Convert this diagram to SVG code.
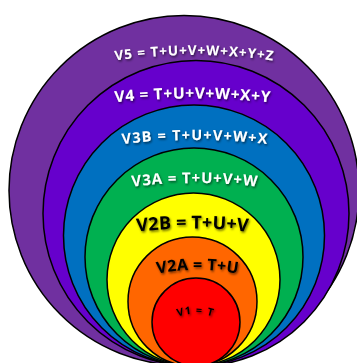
<svg xmlns="http://www.w3.org/2000/svg" xmlns:xlink="http://www.w3.org/1999/xlink" width="357" height="363" viewBox="0 0 357 363">
  <style>
    .ring { stroke: #000; stroke-width: 1.5; }
    .lbl { font-family: "Open Sans", "Liberation Sans", sans-serif; font-weight: bold; text-anchor: middle; filter: url(#shadow); }
    .w { fill: #ffffff; }
    .b { fill: #000000; }
  </style>
  <defs>
    <filter id="shadow" x="-20%" y="-50%" width="140%" height="200%">
      <feDropShadow dx="1" dy="1.5" stdDeviation="0.8" flood-color="#000" flood-opacity="0.6"/>
    </filter>
    <path id="p5" d="M 74 67.8 A 570 570 0 0 1 314 67.8"/>
    <path id="p4" d="M 72.5 107.6 A 800 800 0 0 1 312.5 107.6"/>
    <path id="p3b" d="M 84.5 149.4 A 650 650 0 0 1 304.5 149.4"/>
    <path id="p3a" d="M 94.5 191.9 A 569 569 0 0 1 294.5 191.9"/>
    <path id="p2b" d="M 102.5 236.6 A 505 505 0 0 1 282.5 236.6"/>
    <path id="p2a" d="M 127.5 280.9 A 230 230 0 0 1 267.5 280.9"/>
    <path id="p1" d="M 155 331 A 55 55 0 0 1 235 331"/>
  </defs>

  <g id="V5">
    <circle class="ring" cx="184" cy="190.5" r="175" fill="#7030A0"/>
  </g>
  <g id="V4">
    <circle class="ring" cx="196" cy="213.5" r="153" fill="#6600CC"/>
  </g>
  <g id="V3B">
    <circle class="ring" cx="194" cy="235.5" r="130.5" fill="#0070C0"/>
  </g>
  <g id="V3A">
    <circle class="ring" cx="194" cy="257" r="109" fill="#00B050"/>
  </g>
  <g id="V2B">
    <circle class="ring" cx="193.5" cy="279.5" r="86.5" fill="#FFFF00"/>
  </g>
  <g id="V2A">
    <circle class="ring" cx="192.5" cy="301.5" r="64.5" fill="#FF6600"/>
  </g>
  <g id="V1">
    <circle class="ring" cx="196" cy="322" r="44" fill="#FF0000"/>
  </g>

  <g id="labels">
    <text class="lbl w" font-size="13.5"><textPath xlink:href="#p5" href="#p5" startOffset="50%" textLength="158" lengthAdjust="spacing">V5 = T+U+V+W+X+Y+Z</textPath></text>
    <text class="lbl w" font-size="15.5"><textPath xlink:href="#p4" href="#p4" startOffset="50%" textLength="155" lengthAdjust="spacing">V4 = T+U+V+W+X+Y</textPath></text>
    <text class="lbl w" font-size="14.5"><textPath xlink:href="#p3b" href="#p3b" startOffset="50%" textLength="145" lengthAdjust="spacing">V3B = T+U+V+W+X</textPath></text>
    <text class="lbl w" font-size="15"><textPath xlink:href="#p3a" href="#p3a" startOffset="50%" textLength="125" lengthAdjust="spacing">V3A = T+U+V+W</textPath></text>
    <text class="lbl b" font-size="18"><textPath xlink:href="#p2b" href="#p2b" startOffset="50%" textLength="111" lengthAdjust="spacing">V2B = T+U+V</textPath></text>
    <text class="lbl b" font-size="16"><textPath xlink:href="#p2a" href="#p2a" startOffset="50%" textLength="81" lengthAdjust="spacing">V2A = T+U</textPath></text>
    <text class="lbl b" font-size="10.5"><textPath xlink:href="#p1" href="#p1" startOffset="50%" textLength="35" lengthAdjust="spacing">V1 = T</textPath></text>
  </g>
</svg>
